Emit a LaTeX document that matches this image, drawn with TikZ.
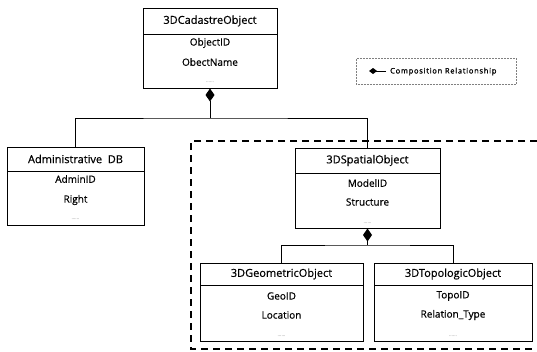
\documentclass[tikz,border=0pt]{standalone}
\usepackage{fontspec}
\setmainfont{Open Sans}
\newfontfamily\labfont[FakeBold=0.6]{Open Sans}
\newfontfamily\legfont[FakeBold=1.2,LetterSpace=10]{Open Sans}
\usetikzlibrary{arrows.meta}
\begin{document}
\begin{tikzpicture}[x=1pt,y=-1pt,
  box/.style={draw, line width=1pt, inner sep=0pt},
  hdr/.style={box, font=\labfont\fontsize{11}{12}\selectfont},
  attr/.style={inner sep=0pt, font=\labfont\fontsize{10}{12}\selectfont},
  dots/.style={inner sep=0pt, text=gray, font=\fontsize{5}{6}\selectfont},
  conn/.style={line width=1pt},
  comp/.style={line width=1pt, -{Diamond[length=13pt,width=9pt]}},
]
\useasboundingbox (0,0) rectangle (537,351);

% dashed region
\draw[line width=1.4pt, dash pattern=on 7pt off 5pt] (537,141) -- (191,141) -- (191,349) -- (537,349);

% 3DCadastreObject
\node[hdr, minimum width=134pt, minimum height=26pt] (cadh) at (210,21) {3DCadastreObject};
\node[box, minimum width=134pt, minimum height=54pt] (cadb) at (210,61) {};
\node[attr] (cad1) at (210,43) {ObjectID};
\node[attr] (cad2) at (210,62) {ObectName};
\node[dots] (cad3) at (210,82) {......};

% Administrative DB
\node[hdr, minimum width=137pt, minimum height=24pt] (admh) at (75.5,159) {Administrative~~DB};
\node[box, minimum width=137pt, minimum height=54pt] (admb) at (75.5,198) {};
\node[attr] (adm1) at (75.5,179) {AdminID};
\node[attr] (adm2) at (75.5,200) {Right};
\node[dots] (adm3) at (75.5,219) {......};

% 3DSpatialObject
\node[hdr, minimum width=145pt, minimum height=25pt] (spah) at (367.5,160.5) {3DSpatialObject};
\node[box, minimum width=145pt, minimum height=55pt] (spab) at (367.5,200.5) {};
\node[attr] (spa1) at (367.5,183) {ModelID};
\node[attr] (spa2) at (367.5,202) {Structure};
\node[dots] (spa3) at (367.5,223) {......};

% 3DGeometricObject
\node[hdr, minimum width=163pt, minimum height=22pt] (geoh) at (281.5,274) {3DGeometricObject};
\node[box, minimum width=163pt, minimum height=56pt] (geob) at (281.5,313) {};
\node[attr] (geo1) at (281.5,296) {GeoID};
\node[attr] (geo2) at (281.5,315) {Location};
\node[dots] (geo3) at (281.5,336) {......};

% 3DTopologicObject
\node[hdr, minimum width=158pt, minimum height=22pt] (toph) at (453,274) {3DTopologicObject};
\node[box, minimum width=158pt, minimum height=56pt] (topb) at (453,313) {};
\node[attr] (top1) at (453,296) {TopoID};
\node[attr] (top2) at (453,315) {Relation\_Type};
\node[dots] (top3) at (453,336) {......};

% connectors
\coordinate (j1) at (210,118);
\coordinate (j2) at (367.5,245);
\draw[comp] (j1) -- (cadb.south);
\draw[conn] (admh.north) |- (j1) -| (spah.north);
\draw[comp] (j2) -- (spab.south);
\draw[conn] (geoh.north) |- (j2) -| (toph.north);

% legend
\node[draw=gray, densely dotted, line width=0.5pt, minimum width=160pt, minimum height=26pt, inner sep=0pt] (leg) at (436,71) {};
\coordinate (la) at (386,71);
\coordinate (lb) at (369,71);
\draw[line width=0.9pt, -{Diamond[length=8pt,width=6pt]}] (la) -- (lb);
\node[anchor=west, inner sep=0pt, font=\legfont\fontsize{7.5}{8}\selectfont] (legt) at (390,71.5) {Composition Relationship};
\end{tikzpicture}
\end{document}
